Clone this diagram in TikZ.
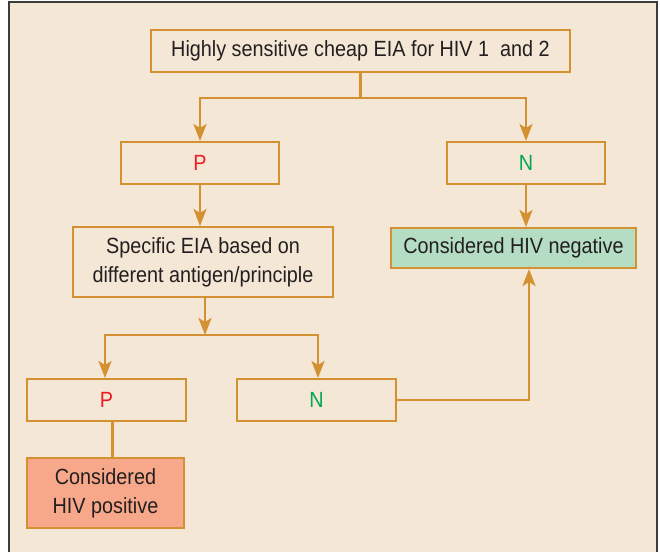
\documentclass[tikz,border=0pt]{standalone}
\usepackage{fontspec}
\setmainfont{Liberation Sans}[FakeStretch=0.9]
\usetikzlibrary{arrows.meta}
\definecolor{panelbg}{RGB}{245,231,214}
\definecolor{frameline}{RGB}{60,60,60}
\definecolor{boxline}{RGB}{212,145,50}
\definecolor{negfill}{RGB}{180,221,196}
\definecolor{posfill}{RGB}{247,168,139}
\definecolor{txt}{RGB}{35,31,32}
\definecolor{pred}{RGB}{237,28,36}
\definecolor{ngreen}{RGB}{0,166,81}
\tikzset{
  flowbox/.style={draw=boxline, line width=2pt, inner sep=0pt, align=center,
    text=txt, font=\fontsize{22}{29}\selectfont},
  link/.style={draw=boxline, line width=2.6pt},
  arr/.style={link, -{Stealth[length=17pt,width=13pt,inset=4pt]}},
}
\begin{document}
\begin{tikzpicture}[x=1pt,y=-1pt]
\useasboundingbox (0,0) rectangle (660,552);
% panel
\fill[panelbg] (9,2) rectangle (657,552);
\draw[frameline, line width=1.2pt] (9,552) -- (9,2) -- (657,2) -- (657,552);

% boxes
\node[flowbox, minimum width=419pt, minimum height=42pt] (top) at (360.5,51)
  {Highly sensitive cheap EIA for HIV 1\ \ and 2};
\node[flowbox, minimum width=158pt, minimum height=42pt] (p1) at (200,163)
  {\textcolor{pred}{P}};
\node[flowbox, minimum width=158pt, minimum height=42pt] (n1) at (526,163)
  {\textcolor{ngreen}{N}};
\node[flowbox, minimum width=260pt, minimum height=70pt] (spec) at (203,262)
  {Specific EIA based on\\different antigen/principle};
\node[flowbox, fill=negfill, minimum width=245pt, minimum height=40pt] (neg) at (513.5,248)
  {Considered HIV negative};
\node[flowbox, minimum width=159pt, minimum height=42pt] (p2) at (106.5,400)
  {\textcolor{pred}{P}};
\node[flowbox, minimum width=159pt, minimum height=42pt] (n2) at (316.5,400)
  {\textcolor{ngreen}{N}};
\node[flowbox, fill=posfill, minimum width=157pt, minimum height=70pt] (pos) at (105.5,493)
  {Considered\\HIV positive};

% first split
\coordinate (j1) at ([yshift=-25pt]top.south);
\draw[link] (top.south) -- (j1);
\draw[arr] (j1) -| (p1.north);
\draw[arr] (j1) -| (n1.north);

% results of the first test
\draw[arr] (p1.south) -- (p1.south |- spec.north);
\draw[arr] (n1.south) -- (n1.south |- neg.north);

% second split
\coordinate (s0) at ([xshift=2pt]spec.south);
\coordinate (j2) at ([yshift=-37pt]s0);
\draw[arr] (s0) -- (j2);
\draw[arr] (j2) -| ([xshift=-1.5pt]p2.north);
\draw[arr] (j2) -| ([xshift=1.5pt]n2.north);

% results of the second test
\draw[arr] (n2.east) -| ([xshift=15.5pt]neg.south);
\draw[link] ([xshift=6pt]p2.south) -- ([xshift=6pt]p2.south |- pos.north);
\end{tikzpicture}
\end{document}
